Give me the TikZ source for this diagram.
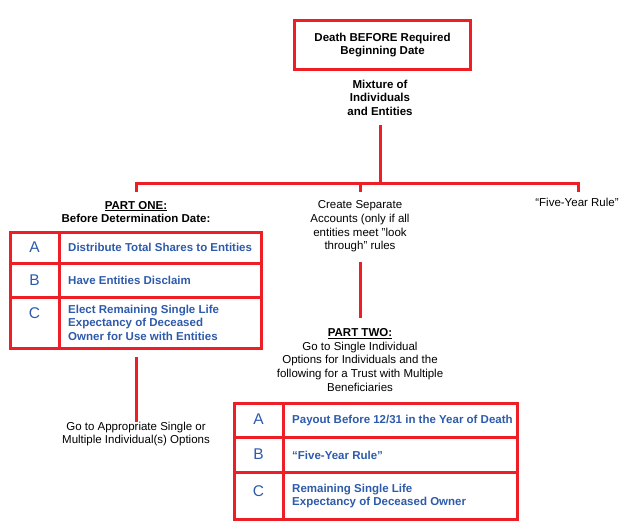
\documentclass[tikz,border=0pt]{standalone}
\usepackage{fontspec}
\setmainfont{Liberation Sans}
\definecolor{rd}{RGB}{237,30,38}
\definecolor{bl}{RGB}{45,90,170}
\newcommand\myfs{\fontsize{11.5}{13.7}\selectfont}
\begin{document}
\begin{tikzpicture}[x=1pt,y=-1pt,
  redln/.style={draw=rd,line width=3pt},
  cellbox/.style={draw=rd,line width=3pt,outer sep=0pt,inner sep=0pt,anchor=north west},
  plain/.style={inner sep=0pt,align=center,font=\myfs},
  boldt/.style={inner sep=0pt,align=center,font=\myfs\bfseries},
  bluet/.style={inner sep=0pt,align=left,anchor=west,text=bl,font=\myfs\bfseries},
  letter/.style={inner sep=0pt,text=bl,font=\fontsize{15.5}{18}\selectfont}
]
\useasboundingbox (0,0) rectangle (631,530);

% top box
\node[redln,outer sep=0pt,minimum width=176,minimum height=49,inner sep=0pt,boldt] (top) at (382.5,45) {Death BEFORE Required\\Beginning Date};
\node[boldt] (mix) at (380,97.7) {Mixture of\\Individuals\\and Entities};

% tree connectors
\coordinate (mixb) at (380,125);
\coordinate (j) at (380,183);
\coordinate (h1) at (136,183);
\coordinate (h3) at (578,183);
\coordinate (t1) at (136,192);
\coordinate (t2) at (360,192);
\coordinate (t3) at (578,192);
\coordinate (h2) at (360,183);
\draw[redln] (mixb) -- (j);
\draw[redln,line join=miter] (t1) -- (h1) -- (h3) -- (t3);
\draw[redln] (h2) -- (t2);

% branch labels
\node[boldt] (p1) at (136,212) {\underline{PART ONE:}\\Before Determination Date:};
\node[plain] (sep) at (360,226.5) {Create Separate\\Accounts (only if all\\entities meet "look\\through” rules};
\node[plain] (five) at (577,202) {“Five-Year Rule”};

% table 1
\node[cellbox,minimum width=48.5,minimum height=30.5] (l1a) at (10.5,232.5) {};
\node[cellbox,minimum width=202.5,minimum height=30.5] (c1a) at (59,232.5) {};
\node[cellbox,minimum width=48.5,minimum height=34] (l1b) at (10.5,263) {};
\node[cellbox,minimum width=202.5,minimum height=34] (c1b) at (59,263) {};
\node[cellbox,minimum width=48.5,minimum height=51.5] (l1c) at (10.5,297) {};
\node[cellbox,minimum width=202.5,minimum height=51.5] (c1c) at (59,297) {};
\node[letter] (la1) at (34.5,247.5) {A};
\node[letter] (lb1) at (34.5,280) {B};
\node[letter] (lc1) at (34.5,313) {C};
\node[bluet] (ta1) at ([xshift=9]c1a.west) {Distribute Total Shares to Entities};
\node[bluet] (tb1) at ([xshift=9]c1b.west) {Have Entities Disclaim};
\node[bluet] (tc1) at ([xshift=9]c1c.west) {Elect Remaining Single Life\\Expectancy of Deceased\\Owner for Use with Entities};

% below table 1
\coordinate (d1a) at (136,357);
\coordinate (d1b) at (136,422);
\draw[redln] (d1a) -- (d1b);
\node[plain] (go) at (136,434) {Go to Appropriate Single or\\Multiple Individual(s) Options};

% middle branch down
\coordinate (m1) at (360,262);
\coordinate (m2) at (360,318);
\draw[redln] (m1) -- (m2);
\node[plain] (p2) at (360,360) {\textbf{\underline{PART TWO:}}\\Go to Single Individual\\Options for Individuals and the\\following for a Trust with Multiple\\Beneficiaries};

% table 2
\node[cellbox,minimum width=48.5,minimum height=34] (l2a) at (234.5,403.5) {};
\node[cellbox,minimum width=234.5,minimum height=34] (c2a) at (283,403.5) {};
\node[cellbox,minimum width=48.5,minimum height=35] (l2b) at (234.5,437.5) {};
\node[cellbox,minimum width=234.5,minimum height=35] (c2b) at (283,437.5) {};
\node[cellbox,minimum width=48.5,minimum height=47] (l2c) at (234.5,472.5) {};
\node[cellbox,minimum width=234.5,minimum height=47] (c2c) at (283,472.5) {};
\node[letter] (la2) at (258.5,419) {A};
\node[letter] (lb2) at (258.5,454) {B};
\node[letter] (lc2) at (258.5,491) {C};
\node[bluet] (ta2) at ([xshift=9]c2a.west) {Payout Before 12/31 in the Year of Death};
\node[bluet] (tb2) at ([xshift=9]c2b.west) {“Five-Year Rule”};
\node[bluet] (tc2) at ([xshift=9]c2c.west) {Remaining Single Life\\Expectancy of Deceased Owner};
\end{tikzpicture}
\end{document}
